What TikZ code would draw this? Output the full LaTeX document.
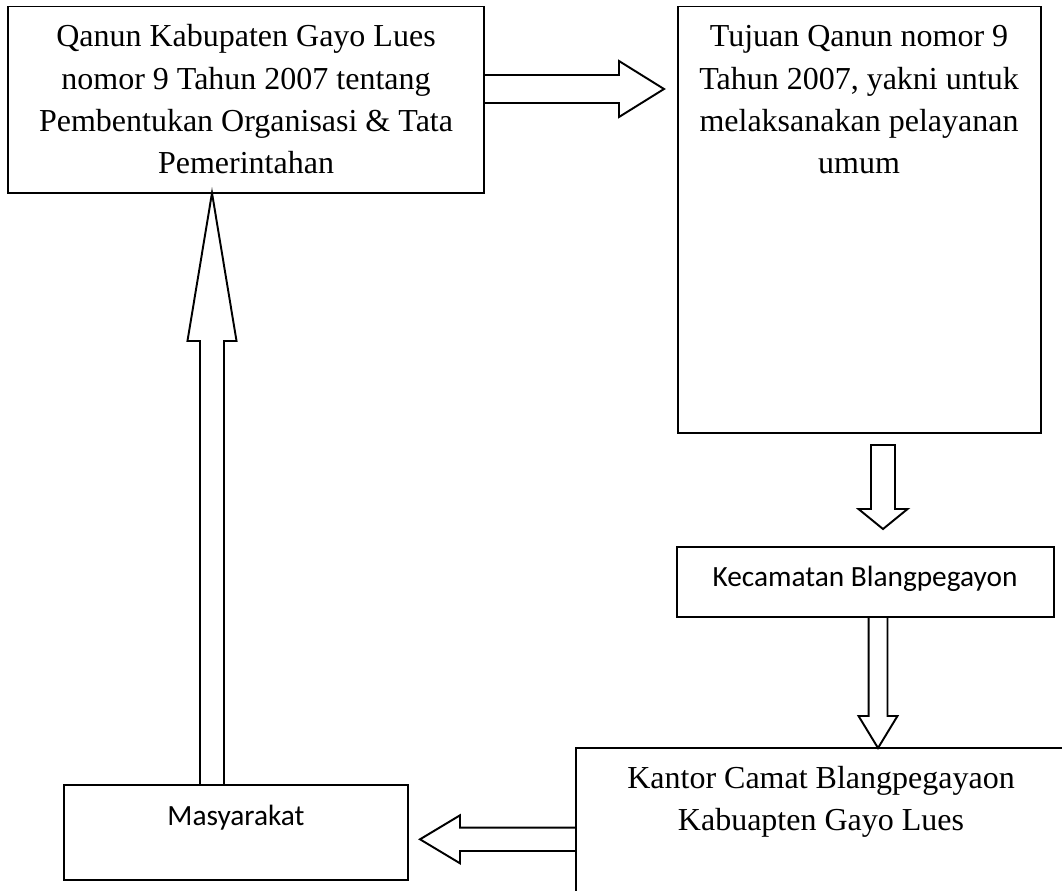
\documentclass[tikz,border=0pt]{standalone}
\usepackage{fontspec}
\setmainfont{Liberation Serif}
\newfontfamily\calfont{Carlito}
\usetikzlibrary{calc}
\tikzset{
  box/.style={draw, line width=1.45pt, rectangle, inner sep=0pt, outer sep=0pt},
  tnr/.style={font=\fontsize{24pt}{31.6pt}\selectfont, align=center, inner sep=0pt, anchor=north},
  cal/.style={font=\calfont\fontsize{22pt}{26pt}\selectfont, inner sep=0pt, anchor=base},
  blockarrow/.style={draw, line width=1.45pt, line join=miter},
}
\newcommand\barrow[5]{%
  \coordinate (hb) at ($(#2)!#5!(#1)$);
  \draw[blockarrow] ($(#1)!#3!90:(#2)$) -- ($(hb)!#3!90:(#2)$) -- ($(hb)!#4!90:(#2)$) -- (#2)
    -- ($(hb)!#4!-90:(#2)$) -- ($(hb)!#3!-90:(#2)$) -- ($(#1)!#3!-90:(#2)$) -- cycle;
}
\begin{document}
\begin{tikzpicture}[x=0.75pt,y=0.75pt]
\useasboundingbox (0,0) rectangle (1062,-890);
\clip (0,0) rectangle (1062,-890);
% boxes
\node[box, minimum width=357pt, minimum height=139.9pt] (q) at (246,-99.75) {};
\node[box, minimum width=272.25pt, minimum height=319.9pt] (t) at (859.5,-219.75) {};
\node[box, minimum width=282.75pt, minimum height=52.5pt] (k) at (865.5,-582) {};
\node[box, minimum width=369pt, minimum height=117.75pt] (c) at (822,-826.5) {};
\node[box, minimum width=258pt, minimum height=71.25pt] (m) at (236,-832.5) {};
% texts
\node[tnr] (qt) at (246,-17.2) {\strut Qanun Kabupaten Gayo Lues\\nomor 9 Tahun 2007 tentang\\Pembentukan Organisasi \& Tata\\Pemerintahan};
\node[tnr] (tt) at (859,-17.2) {\strut Tujuan Qanun nomor 9\\Tahun 2007, yakni untuk\\melaksanakan pelayanan\\umum};
\node[cal] (kt) at (865,-586) {Kecamatan Blangpegayon};
\node[tnr] (ct) at (821,-758.5) {\strut Kantor Camat Blangpegayaon\\Kabuapten Gayo Lues};
\node[cal] (mt) at (236,-825.3) {Masyarakat};
% arrow end points
\coordinate (a1s) at (q.east |- 0,-89);
\coordinate (a1e) at ($(t.west |- a1s)+(-14,0)$);
\coordinate (a2s) at ($(t.south -| 883,0)+(0,-12)$);
\coordinate (a2e) at ($(k.north -| a2s)+(0,18)$);
\coordinate (a3s) at (k.south -| 878,0);
\coordinate (a3e) at (c.north -| a3s);
\coordinate (a4s) at (c.west |- 0,-839.3);
\coordinate (a4e) at ($(m.east |- a4s)+(12,0)$);
\coordinate (a5s) at (m.north -| 212,0);
\coordinate (a5e) at (q.south -| a5s);
% block arrows
\barrow{a1s}{a1e}{10.5pt}{21pt}{33.75pt}
\barrow{a2s}{a2e}{9pt}{18.4pt}{15pt}
\barrow{a3s}{a3e}{7.1pt}{14.6pt}{24pt}
\barrow{a4s}{a4e}{8.75pt}{18pt}{30pt}
\barrow{a5s}{a5e}{9pt}{18.4pt}{111pt}
\end{tikzpicture}
\end{document}
